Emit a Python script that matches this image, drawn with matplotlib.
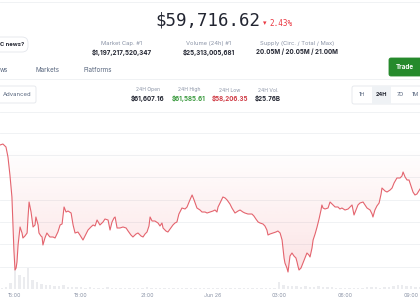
import numpy as np
import matplotlib
matplotlib.use("Agg")
import matplotlib.pyplot as plt
from matplotlib.patches import FancyBboxPatch, Rectangle
from matplotlib.lines import Line2D

# ---------------- data ----------------
# hours since Jun 25 00:00
times = [14.32, 14.45, 14.59, 14.68, 14.77, 14.86, 14.91, 14.95, 15.0, 15.05, 15.09, 15.14, 15.23, 15.32, 15.36,
         15.45, 15.55, 15.59, 15.64, 15.73, 15.82, 15.91, 15.95, 16.05, 16.09, 16.18, 16.23, 16.27, 16.36, 16.45,
         16.55, 16.59, 16.73, 16.82, 16.95, 17.05, 17.14, 17.23, 17.32, 17.41, 17.55, 17.64, 17.73, 17.86, 17.95,
         18.09, 18.18, 18.32, 18.45, 18.55, 18.64, 18.73, 18.86, 19.0, 19.09, 19.23, 19.32, 19.41, 19.5, 19.55,
         19.64, 19.77, 19.91, 20.05, 20.14, 20.27, 20.36, 20.5, 20.59, 20.73, 20.82, 20.91, 21.0, 21.09, 21.14,
         21.23, 21.36, 21.5, 21.59, 21.68, 21.73, 21.86, 21.95, 22.05, 22.18, 22.27, 22.36, 22.45, 22.59, 22.73,
         22.82, 22.95, 23.05, 23.14, 23.27, 23.41, 23.5, 23.64, 23.73, 23.86, 24.0, 24.09, 24.18, 24.23, 24.32,
         24.45, 24.55, 24.64, 24.77, 24.86, 25.0, 25.14, 25.23, 25.36, 25.45, 25.59, 25.77, 25.86, 25.95, 26.05,
         26.14, 26.27, 26.36, 26.45, 26.5, 26.59, 26.73, 26.86, 26.95, 27.05, 27.14, 27.18, 27.23, 27.27, 27.36,
         27.41, 27.45, 27.5, 27.59, 27.68, 27.77, 27.82, 27.86, 27.91, 28.0, 28.09, 28.18, 28.27, 28.36, 28.41,
         28.5, 28.55, 28.64, 28.73, 28.82, 28.91, 28.95, 29.0, 29.09, 29.23, 29.32, 29.41, 29.55, 29.68, 29.77,
         29.86, 30.0, 30.14, 30.23, 30.32, 30.41, 30.5, 30.59, 30.68, 30.82, 30.91, 31.0, 31.14, 31.23, 31.27,
         31.36, 31.45, 31.55, 31.64, 31.68, 31.82, 31.91, 32.05, 32.14, 32.23, 32.36, 32.5, 32.59, 32.64, 32.73,
         32.82, 32.91, 33.0, 33.09, 33.18, 33.27, 33.41]
prices = [61674, 61700, 61620, 61351, 60867, 60275, 59522, 58849, 58311, 58365, 58526, 58984, 59468, 59306, 59172,
          59225, 59306, 59710, 60140, 59871, 59468, 59522, 59737, 59522, 59306, 59225, 59199, 58984, 59172, 59306,
          59225, 59199, 59199, 59172, 59333, 59522, 59549, 60006, 59871, 59898, 59844, 59522, 59306, 59333, 59253,
          59118, 59225, 59387, 59468, 59522, 59495, 59656, 59522, 59602, 59683, 59656, 59387, 59602, 59710, 59737,
          59441, 59441, 59468, 59441, 59360, 59253, 59199, 59279, 59306, 59225, 59199, 59279, 59333, 59495, 59737,
          59629, 59629, 59575, 59495, 59575, 59441, 59360, 59333, 59414, 59522, 59575, 59602, 59817, 59979, 59952,
          60006, 60194, 60329, 60194, 59979, 59925, 59871, 59871, 59844, 59871, 59898, 59925, 59871, 60006, 60113,
          60275, 60248, 60194, 60087, 59979, 59844, 59898, 59925, 59871, 59844, 59817, 59817, 59763, 59683, 59602,
          59575, 59549, 59495, 59387, 59253, 59279, 59306, 59333, 59360, 59306, 59118, 58903, 58634, 58499, 58365,
          58257, 58446, 58688, 58768, 58688, 58634, 58526, 58419, 58311, 58365, 58499, 58634, 58768, 58714, 58661,
          58903, 59118, 59279, 59468, 59683, 59925, 60060, 59979, 59952, 59979, 60140, 60087, 60006, 60006, 59952,
          59979, 59925, 59952, 60006, 60060, 59791, 59925, 60060, 60113, 60140, 60060, 59979, 59925, 59817, 59737,
          59925, 60033, 60113, 60355, 60517, 60436, 60409, 60463, 60517, 60651, 60786, 60786, 60840, 60947, 60813,
          60732, 60732, 60571, 60409, 60329, 60355, 60490]

vol_start, vol_step = 14.4, 0.2
volumes = [20, 40, 120,
           400, 280, 240, 420, 180,
           140, 100, 80, 80, 60,
           60, 80, 40, 50, 40,
           40, 30, 40, 30, 30,
           30, 40, 30, 30, 30,
           30, 30, 20, 30, 30,
           40, 30, 30, 20, 30,
           30, 30, 20, 30, 30,
           30, 20, 30, 20, 20,
           20, 30, 20, 30, 20,
           20, 20, 30, 20, 30,
           30, 20, 30, 30, 30,
           140, 80, 60, 70, 60,
           50, 60, 40, 50, 60,
           50, 40, 40, 30, 30,
           30, 30, 20, 30, 30,
           40, 50, 40, 30, 40,
           40, 60, 80, 90, 70,
           60, 40, 40]

open_price = 61607.16
tick_hours = [15, 18, 21, 24, 27, 30, 33]
tick_labels = ["15:00", "18:00", "21:00", "Jun 26", "03:00", "06:00", "09:00"]
grid_prices = [57800, 58400, 59000, 59600, 60200, 60800, 61400, 62000]

stat_labels = ["Market Cap. #1", "Volume (24h) #1", "Supply (Circ. / Total / Max)"]
stat_values = ["$1,197,217,520,347", "$25,313,005,681", "20.05M / 20.05M / 21.00M"]
day_labels = ["24H Open", "24H High", "24H Low", "24H Vol."]
day_values = ["$61,607.16", "$61,585.61", "$58,206.35", "$25.76B"]
tabs = ["ws", "Markets", "Platforms"]
ranges = ["1H", "24H", "7D", "1M"]

# ---------------- figure ----------------
W, H = 420, 300
fig = plt.figure(figsize=(4.2, 3.0), dpi=100)
fig.patch.set_facecolor("white")
FONT = ["Inter", "DejaVu Sans"]
GREY = "#8a93a6"
DARK = "#222531"
RED = "#ea3943"


def T(x, y, s, **kw):
    kw.setdefault("family", FONT)
    kw.setdefault("ha", "center")
    kw.setdefault("va", "center")
    fig.text(x / W, 1 - y / H, s, **kw)


def hline(y, x0=0, x1=420, color="#eef0f3", lw=0.6):
    fig.add_artist(Line2D([x0 / W, x1 / W], [1 - y / H, 1 - y / H], color=color, lw=lw,
                          transform=fig.transFigure))


def box(x, y, w, h, fc="white", ec="#e3e6eb", lw=0.6, r=2):
    fig.add_artist(FancyBboxPatch((x / W, 1 - (y + h) / H), w / W, h / H,
                                  boxstyle=f"round,pad=0,rounding_size={r / W}",
                                  fc=fc, ec=ec, lw=lw, transform=fig.transFigure,
                                  mutation_aspect=W / H))

# header
hline(2)
T(208, 21, "$59,716.62", family=["DejaVu Sans Mono"], fontsize=12.5, color=DARK)
T(265, 23, "\u25BE", fontsize=5, color=RED, family=["DejaVu Sans"])
T(269, 23, "2.43%", fontsize=5.5, color=RED, ha="left", family=["DejaVu Sans Mono"])

box(-12, 37, 40, 15, ec="#e3e6eb", r=6)
T(0, 44.5, "C news?", fontsize=4.2, color=DARK, ha="left", weight="bold")

for cx, lab, val in zip([122, 209, 297], stat_labels, stat_values):
    T(cx, 43, lab, fontsize=4.2, color=GREY)
    T(cx, 52, val, fontsize=4.5, color=DARK, weight="bold")

for x, tab in zip([0, 35, 84], tabs):
    T(x, 70, tab, fontsize=4.5, color="#58667e", ha="left")
box(389, 58, 40, 18, fc="#268a2c", ec="#268a2c", r=2)
T(405, 67, "Trade", fontsize=4.5, color="white", weight="bold")
hline(79)

box(-6, 86, 42, 17, r=2)
T(3, 94.5, "Advanced", fontsize=4.3, color="#58667e", ha="left")
val_cols = [DARK, "#3a9a3e", "#cf3a44", DARK]
for cx, lab, val, c in zip([148, 189, 230, 268], day_labels, day_values, val_cols):
    T(cx, 90, lab, fontsize=3.6, color=GREY)
    T(cx, 98, val, fontsize=4.5, color=c, weight="bold")

box(352, 86, 80, 18, r=2)
fig.add_artist(Rectangle((372 / W, 1 - 104 / H), 19 / W, 18 / H, fc="#eff2f5", ec="none",
                         transform=fig.transFigure))
for x, rg in zip([362, 381, 400, 415], ranges):
    T(x, 95, rg, fontsize=4.0, color=DARK if rg == "24H" else "#58667e",
      weight="bold" if rg == "24H" else "normal")
hline(112)

# ---------------- chart ----------------
y_bot, y_top = 289, 122
px_per_usd = 1 / 26.9
ymin = 57800
ymax = ymin + (y_bot - y_top) / px_per_usd
t0 = 15 - 15 / 22
t1 = 15 + 405 / 22

ax = fig.add_axes([0, 1 - y_bot / H, 1, (y_bot - y_top) / H])
ax2 = ax.twinx()
ax.set_zorder(ax2.get_zorder() + 1)
ax.patch.set_visible(False)

# volume
vt = vol_start + vol_step * np.arange(len(volumes))
ax2.bar(vt, volumes, width=vol_step * 0.55, color="#ebecef", lw=0)
ax2.set_ylim(0, 420 * (y_bot - y_top) / 21)
ax2.axis("off")

# grid
for g in grid_prices:
    ax.axhline(g, color="#eef0f3", lw=0.6, zorder=0)

# gradient fill between line and open price
t_arr = np.array(times)
p_arr = np.array(prices)
poly = ax.fill_between(t_arr, p_arr, open_price, color="none", lw=0)
path = poly.get_paths()[0]
grad = np.linspace(0.15, 0.0, 256).reshape(-1, 1)
rgba = np.zeros((256, 1, 4))
rgba[..., 0] = 234 / 255
rgba[..., 1] = 57 / 255
rgba[..., 2] = 67 / 255
rgba[..., 3] = grad
im = ax.imshow(rgba, extent=[t0, t1, 58000, open_price], origin="lower", aspect="auto", zorder=1,
               interpolation="bilinear")
im.set_clip_path(path, transform=ax.transData)

ax.plot(t_arr, p_arr, color="#e4646e", lw=0.8, zorder=3)

ax.set_xlim(t0, t1)
ax.set_ylim(ymin, ymax)
ax.set_xticks(tick_hours)
ax.set_xticklabels(tick_labels)
ax.tick_params(axis="x", length=0, pad=3, labelsize=3.8, labelcolor=GREY)
ax.set_yticks([])
for s in ax.spines.values():
    s.set_visible(False)
for lab in ax.get_xticklabels():
    lab.set_family(FONT)

fig.savefig("out.png", dpi=100, facecolor="white")
